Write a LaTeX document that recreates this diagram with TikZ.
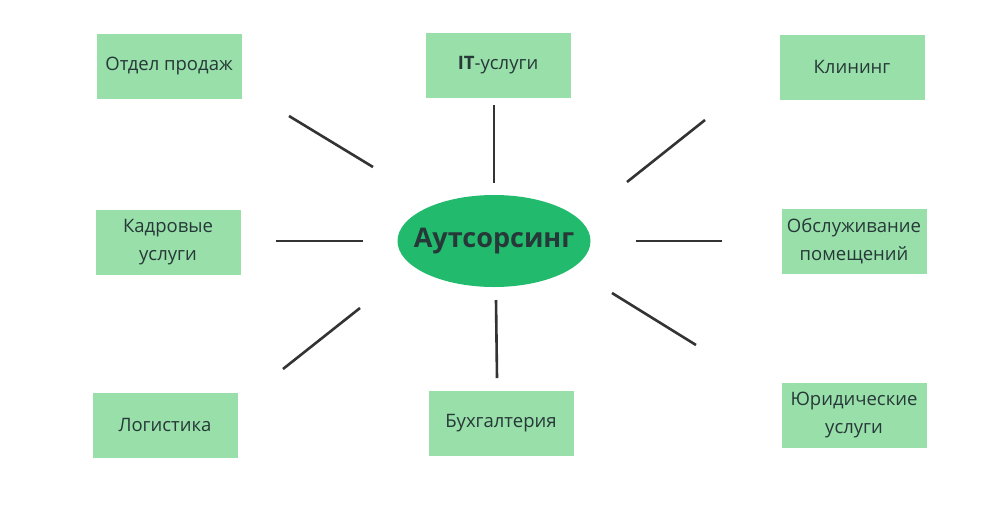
\documentclass[tikz,border=0pt]{standalone}
\usepackage{fontspec}
\setmainfont{Open Sans}
\usetikzlibrary{shapes.geometric}
\definecolor{boxfill}{HTML}{98DFA9}
\definecolor{ellfill}{HTML}{22BB6E}
\definecolor{txt}{HTML}{263838}
\definecolor{lin}{HTML}{333333}
\tikzset{
  box/.style={rectangle, fill=boxfill, minimum width=145pt, minimum height=65pt, inner sep=0pt, align=center, text=txt, font=\fontsize{18.5}{28}\selectfont},
  hub/.style={ellipse, fill=ellfill, minimum width=193pt, minimum height=92pt, inner sep=0pt},
  hubtext/.style={text=txt, inner sep=0pt, font=\fontsize{27}{30}\selectfont\bfseries},
  spoke/.style={draw=lin, line width=2.6pt}
}
\begin{document}
\begin{tikzpicture}[x=1pt,y=-1pt]
\fill[white] (0,0) rectangle (1000,515);
\node[hub] (c) at (494,241) {};
\node[hubtext] (ct) at (c) {Аутсорсинг};
\node[box] (sales) at (169,66) {Отдел продаж};
\node[box] (it) at (498,65) {\textbf{IT}-услуги};
\node[box] (clean) at (852,67) {Клининг};
\node[box] (hr) at (168,242) {Кадровые\\услуги};
\node[box] (serv) at (854,241) {Обслуживание\\помещений};
\node[box] (log) at (165,425) {Логистика};
\node[box] (acc) at (501,423) {Бухгалтерия};
\node[box] (law) at (854,415) {Юридические\\услуги};
\coordinate (a1) at (289,116); \coordinate (b1) at (373,167);
\coordinate (a2) at (494,105); \coordinate (b2) at (494,183);
\coordinate (a3) at (705,120); \coordinate (b3) at (627,182);
\coordinate (a4) at (276,241); \coordinate (b4) at (363,241);
\coordinate (a5) at (722,241); \coordinate (b5) at (636,241);
\coordinate (a6) at (283,369); \coordinate (b6) at (360,308);
\coordinate (a7) at (497,378); \coordinate (b7) at (496,300);
\coordinate (a8) at (696,345); \coordinate (b8) at (612,293);
\foreach \i in {1,...,8} \draw[spoke] (a\i) -- (b\i);
\end{tikzpicture}
\end{document}
